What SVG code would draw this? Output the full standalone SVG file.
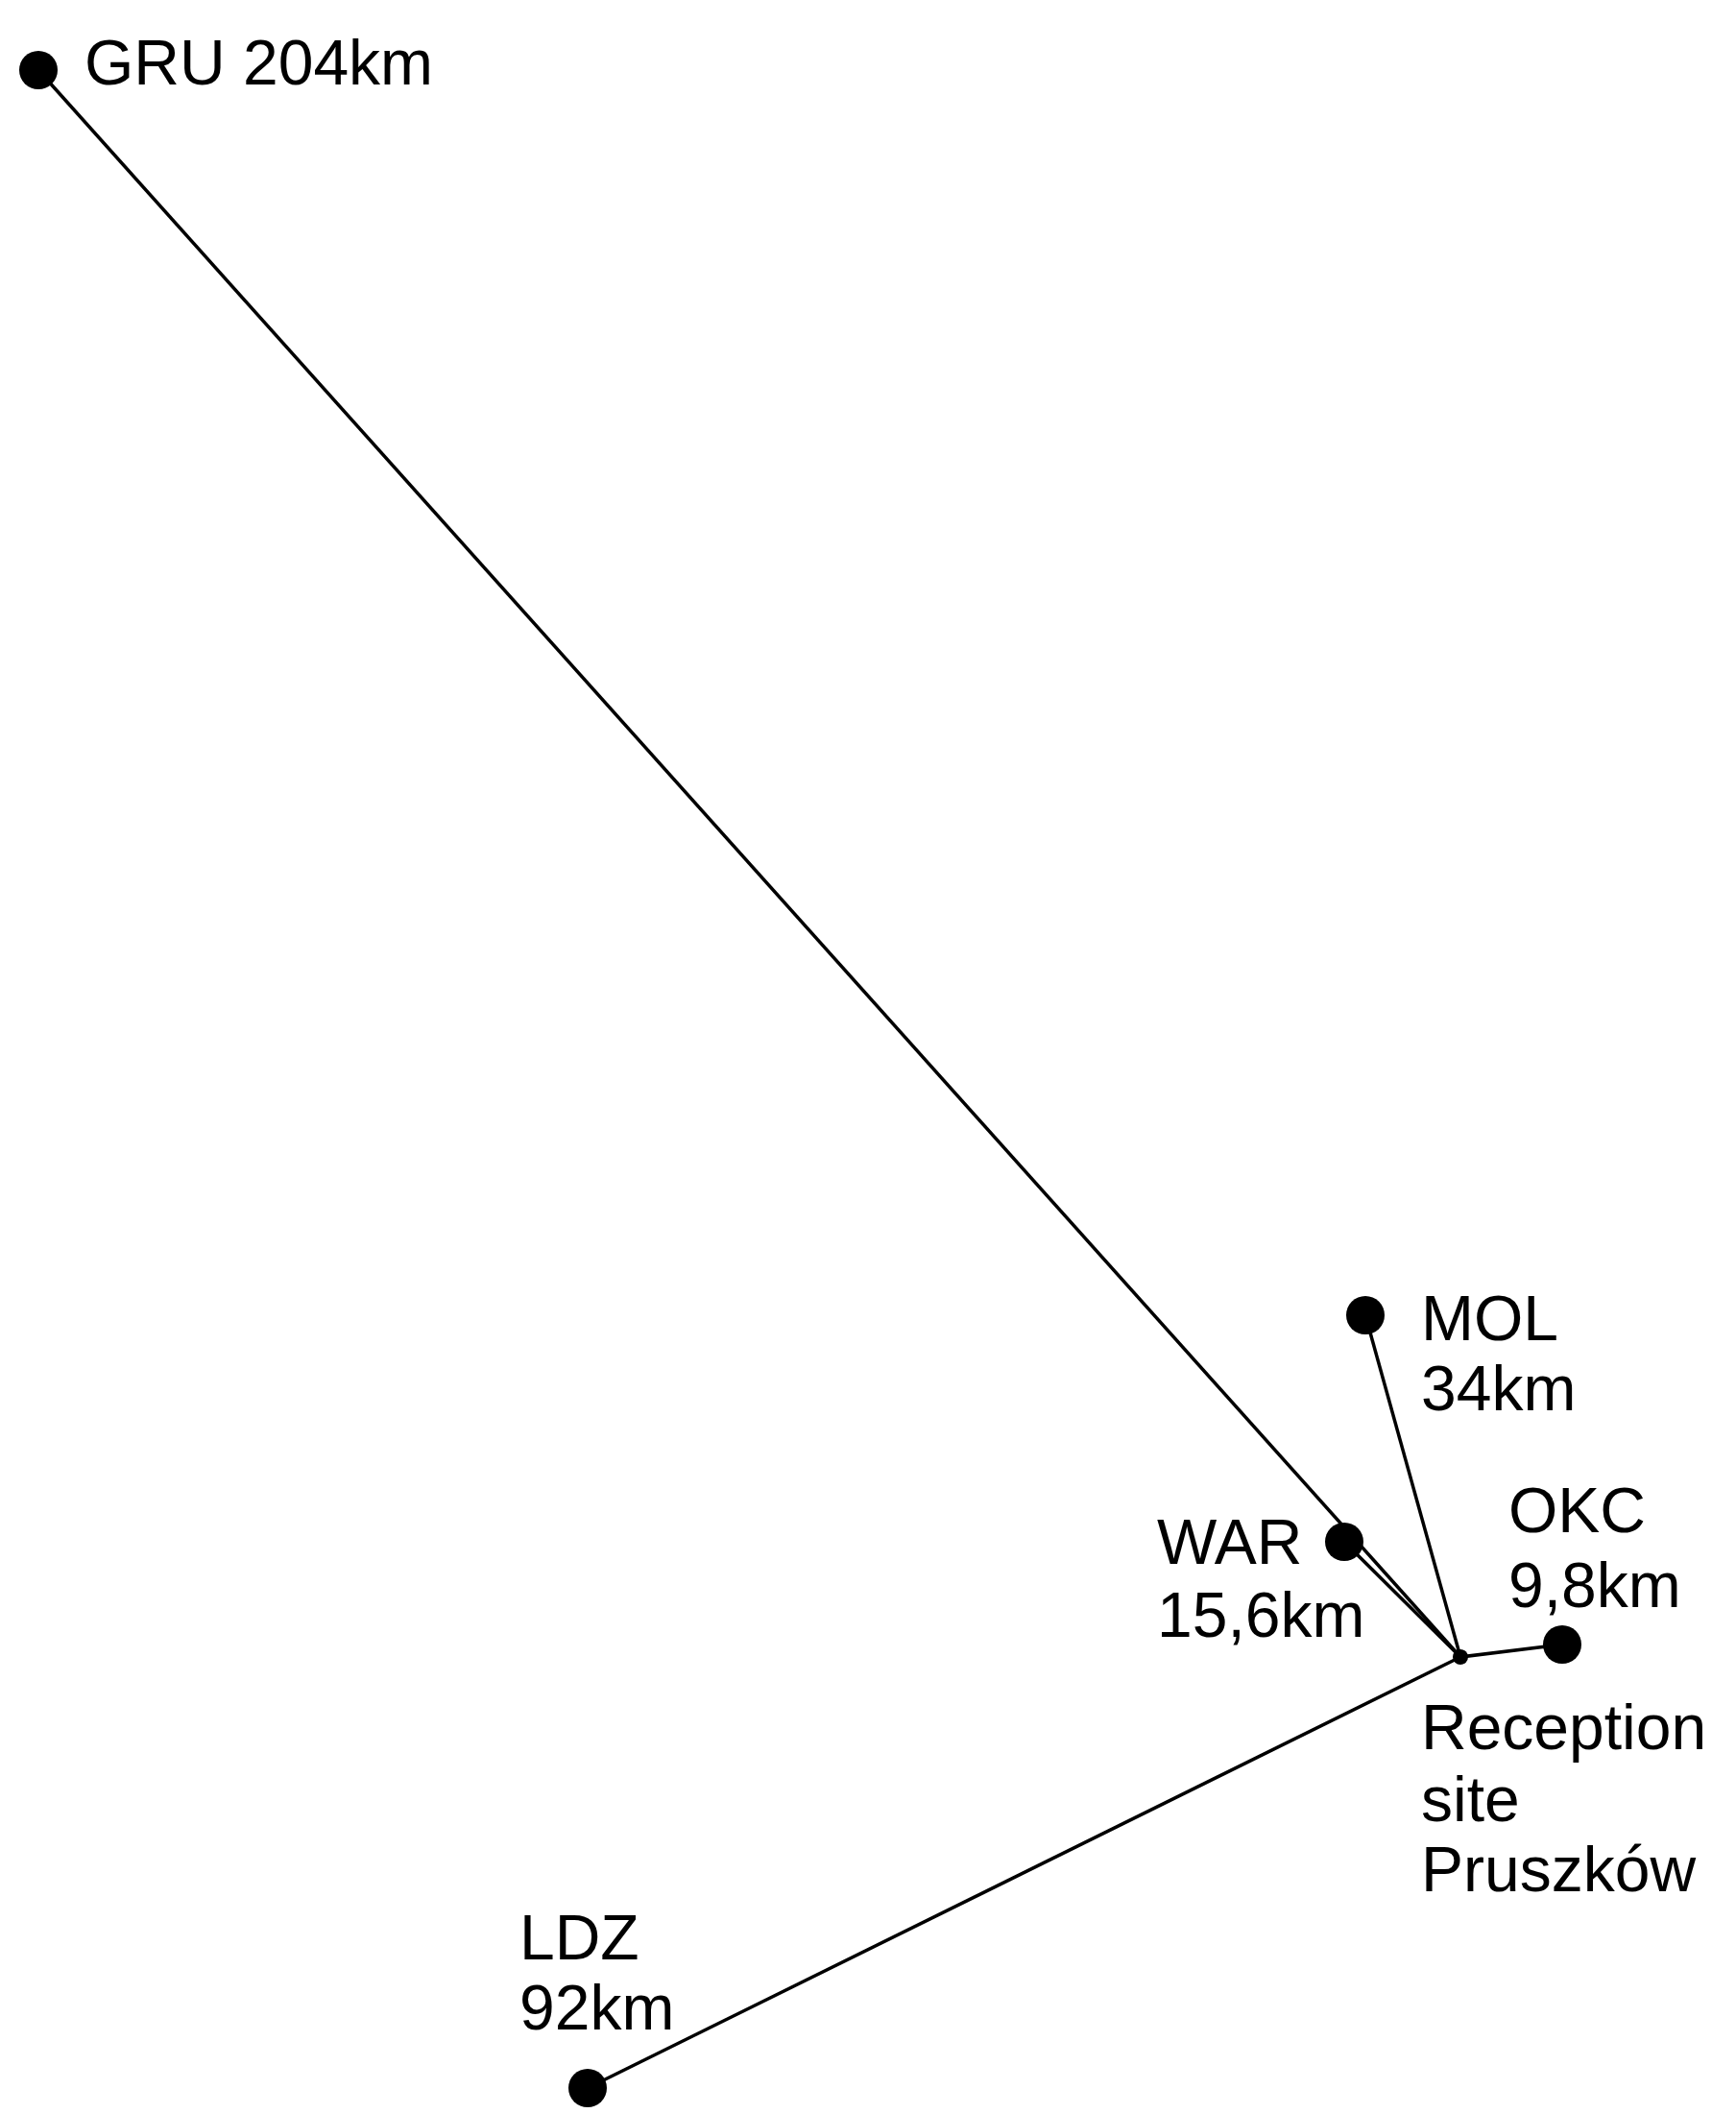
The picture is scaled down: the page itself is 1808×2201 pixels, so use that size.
<svg xmlns="http://www.w3.org/2000/svg" width="1808" height="2201" viewBox="0 0 1808 2201">
<style>
text{font-family:"Liberation Sans",Arial,sans-serif;font-size:66px;fill:#000}
.c line{stroke:#000;stroke-width:3.5}
circle{fill:#000}
</style>
<rect width="1808" height="2201" fill="#fff"/>
<g class="c" id="connectors">
<line x1="40" y1="73" x2="1521" y2="1726"/>
<line x1="1422" y1="1370" x2="1521" y2="1726"/>
<line x1="1400" y1="1606" x2="1521" y2="1726"/>
<line x1="1627" y1="1713" x2="1521" y2="1726"/>
<line x1="612" y1="2175" x2="1521" y2="1726"/>
</g>
<g id="GRU"><circle cx="40" cy="73" r="20"/><text x="88" y="88">GRU 204km</text></g>
<g id="MOL"><circle cx="1422" cy="1370" r="20"/><text x="1480" y="1396">MOL</text><text x="1480" y="1469">34km</text></g>
<g id="WAR"><circle cx="1400" cy="1606" r="20"/><text x="1205" y="1629">WAR</text><text x="1205" y="1705">15,6km</text></g>
<g id="OKC"><circle cx="1627" cy="1713" r="20"/><text x="1571" y="1596">OKC</text><text x="1571" y="1674">9,8km</text></g>
<g id="Reception"><circle cx="1521" cy="1726" r="8"/><text x="1480" y="1822">Reception</text><text x="1480" y="1897">site</text><text x="1480" y="1970">Pruszków</text></g>
<g id="LDZ"><circle cx="612" cy="2175" r="20"/><text x="541" y="2041">LDZ</text><text x="541" y="2114">92km</text></g>
</svg>
